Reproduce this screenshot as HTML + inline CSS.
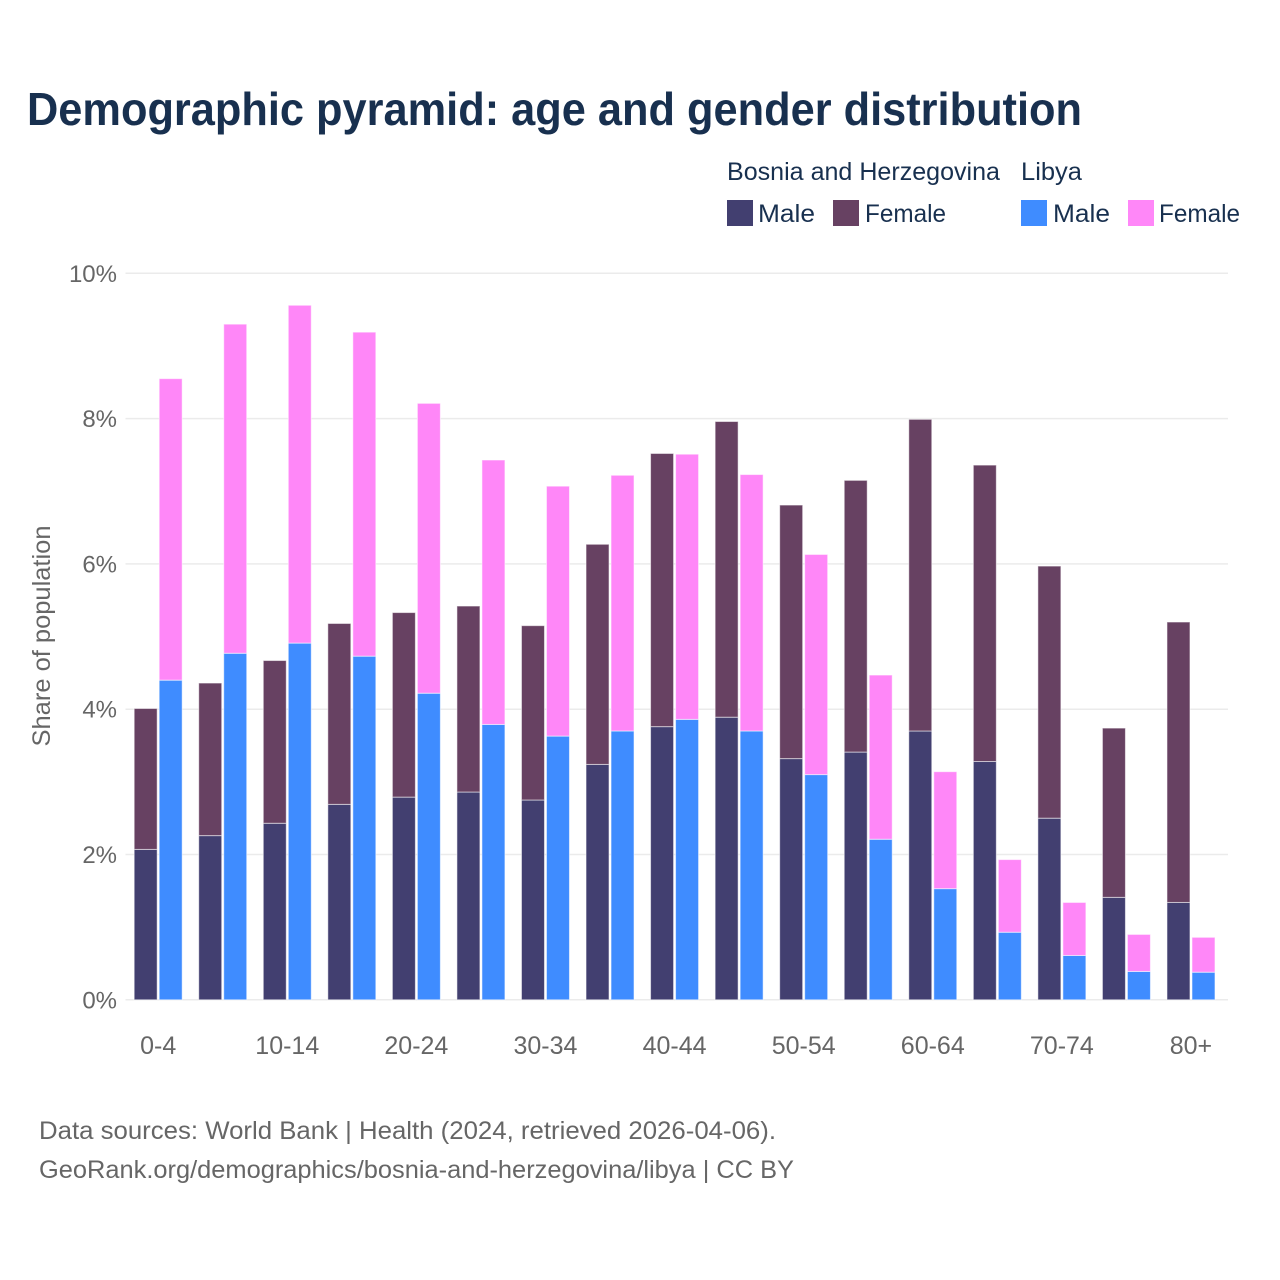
<!DOCTYPE html>
<html lang="en">
<head>
<meta charset="utf-8">
<title>Demographic pyramid</title>
<style>
html,body{margin:0;padding:0;background:#fff;width:1280px;height:1280px;overflow:hidden}
svg{display:block}
text{font-family:"Liberation Sans",sans-serif}
.lg{font-size:25px;fill:#18304f}
.gr{font-size:25px;fill:#666}
</style>
</head>
<body>
<svg id="chart" xmlns="http://www.w3.org/2000/svg" width="1280" height="1280" viewBox="0 0 1280 1280">
<rect x="0" y="0" width="1280" height="1280" fill="#fff"/>
<text x="27" y="125" font-size="46" font-weight="700" fill="#18304f" textLength="1055" lengthAdjust="spacingAndGlyphs">Demographic pyramid: age and gender distribution</text>

<g>
<text class="lg" x="727" y="180" textLength="273" lengthAdjust="spacingAndGlyphs">Bosnia and Herzegovina</text>
<text class="lg" x="1021" y="180" textLength="61" lengthAdjust="spacingAndGlyphs">Libya</text>
<rect x="727" y="200" width="26" height="26" fill="#423f70"/>
<text class="lg" x="758" y="222" textLength="57" lengthAdjust="spacingAndGlyphs">Male</text>
<rect x="833" y="200" width="26" height="26" fill="#674162"/>
<text class="lg" x="865" y="222" textLength="81" lengthAdjust="spacingAndGlyphs">Female</text>
<rect x="1021" y="200" width="26" height="26" fill="#3f8cff"/>
<text class="lg" x="1053" y="222" textLength="57" lengthAdjust="spacingAndGlyphs">Male</text>
<rect x="1128" y="200" width="26" height="26" fill="#ff87f8"/>
<text class="lg" x="1159" y="222" textLength="81" lengthAdjust="spacingAndGlyphs">Female</text>
</g>

<g id="grid"></g>
<g id="yticks"></g>
<g id="bars"></g>
<g id="xticks"></g>

<text class="gr" transform="translate(50,636) rotate(-90)" text-anchor="middle" font-size="25" fill="#666" textLength="221" lengthAdjust="spacingAndGlyphs">Share of population</text>

<text class="gr" x="39" y="1139" textLength="737" lengthAdjust="spacingAndGlyphs">Data sources: World Bank | Health (2024, retrieved 2026-04-06).</text>
<text class="gr" x="39" y="1178" textLength="755" lengthAdjust="spacingAndGlyphs">GeoRank.org/demographics/bosnia-and-herzegovina/libya | CC BY</text>
</svg>

<script>
const ageGroups = ["0-4","5-9","10-14","15-19","20-24","25-29","30-34","35-39","40-44","45-49","50-54","55-59","60-64","65-69","70-74","75-79","80+"];
const xTickLabels = ["0-4","10-14","20-24","30-34","40-44","50-54","60-64","70-74","80+"];
const yTickValues = [0,2,4,6,8,10];
const bosniaMale = [2.07,2.26,2.43,2.69,2.79,2.86,2.75,3.24,3.76,3.89,3.32,3.41,3.70,3.28,2.50,1.41,1.34];
const bosniaFemale = [1.94,2.10,2.24,2.49,2.54,2.56,2.40,3.03,3.76,4.07,3.49,3.74,4.29,4.08,3.47,2.33,3.86];
const libyaMale = [4.40,4.77,4.91,4.73,4.22,3.79,3.63,3.70,3.86,3.70,3.10,2.21,1.53,0.93,0.61,0.39,0.38];
const libyaFemale = [4.15,4.53,4.65,4.46,3.99,3.64,3.44,3.52,3.65,3.53,3.03,2.26,1.61,1.00,0.73,0.51,0.48];

const NS = "http://www.w3.org/2000/svg";
const plotLeft = 125.5, plotRight = 1228;
const yBase = 999.8, yTop = 273.3, yMax = 10;
const bandStart = 125.9, bandStep = 64.55;
function yScale(v){ return yBase - (v / yMax) * (yBase - yTop); }
function xCenter(i){ return bandStart + bandStep * (i + 0.5); }

function addRect(parent, x, y0, y1, fill){
  const r = document.createElementNS(NS, "rect");
  r.setAttribute("x", x);
  r.setAttribute("y", y1);
  r.setAttribute("width", 23);
  r.setAttribute("height", Math.max(0, y0 - y1));
  r.setAttribute("fill", fill);
  r.setAttribute("stroke", "#fff");
  r.setAttribute("stroke-opacity", "0.55");
  r.setAttribute("stroke-width", "1");
  parent.appendChild(r);
  return r;
}

const grid = document.getElementById("grid");
const yticks = document.getElementById("yticks");
yTickValues.forEach(function(v){
  const l = document.createElementNS(NS, "line");
  l.setAttribute("x1", plotLeft);
  l.setAttribute("x2", plotRight);
  l.setAttribute("y1", yScale(v));
  l.setAttribute("y2", yScale(v));
  l.setAttribute("stroke", "#ebebeb");
  l.setAttribute("stroke-width", "1.5");
  
  
  grid.appendChild(l);
  const t = document.createElementNS(NS, "text");
  t.setAttribute("x", 117);
  t.setAttribute("y", yScale(v) + 8.5);
  t.setAttribute("text-anchor", "end");
  t.setAttribute("class", "gr");
  t.setAttribute("font-size", "24");
  t.style.fontSize = "24px";
  
  
  t.textContent = v + "%";
  yticks.appendChild(t);
});

const bars = document.getElementById("bars");
ageGroups.forEach(function(age, i){
  const cx = xCenter(i);
  const x1 = cx - 24, x2 = cx + 1;
  const a = addRect(bars, x1, yBase, yScale(bosniaMale[i]), "#423f70");
  
  
  const b = addRect(bars, x1, yScale(bosniaMale[i]), yScale(bosniaMale[i] + bosniaFemale[i]), "#674162");
  
  
  const c = addRect(bars, x2, yBase, yScale(libyaMale[i]), "#3f8cff");
  
  
  const d = addRect(bars, x2, yScale(libyaMale[i]), yScale(libyaMale[i] + libyaFemale[i]), "#ff87f8");
  
  
});

const xticks = document.getElementById("xticks");
xTickLabels.forEach(function(label){
  const t = document.createElementNS(NS, "text");
  t.setAttribute("x", xCenter(ageGroups.indexOf(label)));
  t.setAttribute("y", 1054);
  t.setAttribute("text-anchor", "middle");
  t.setAttribute("class", "gr");
  
  
  t.textContent = label;
  xticks.appendChild(t);
});
</script>
</body>
</html>
